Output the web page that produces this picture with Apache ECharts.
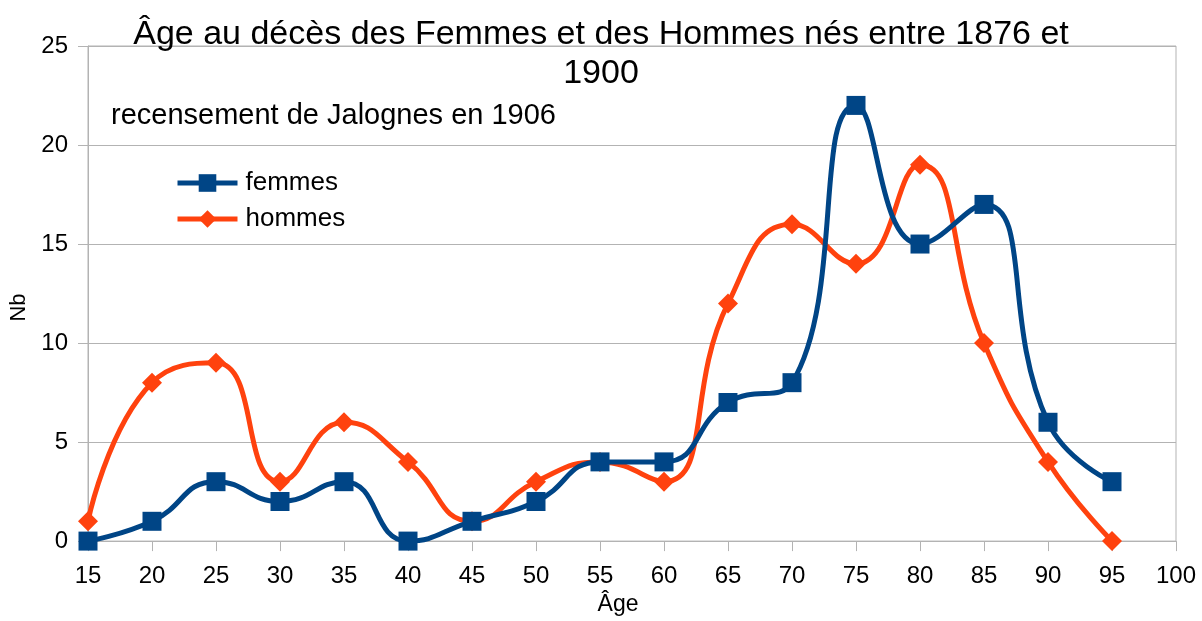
<!DOCTYPE html>
<html>
<head>
<meta charset="utf-8">
<script src="https://cdn.jsdelivr.net/npm/echarts@6/dist/echarts.min.js"></script>
<style>
html, body { margin: 0; padding: 0; background: #fff; overflow: hidden; }
#chart { width: 100vw; height: 100vh; }
</style>
</head>
<body>
<div id="chart"></div>
<script>
// âges (axe X) et nombre de décès par série
const ages = [15, 20, 25, 30, 35, 40, 45, 50, 55, 60, 65, 70, 75, 80, 85, 90, 95]
const femmes = [0, 1, 3, 2, 3, 0, 1, 2, 4, 4, 7, 8, 22, 15, 17, 6, 3]
const hommes = [1, 8, 9, 3, 6, 4, 1, 3, 4, 3, 12, 16, 14, 19, 10, 4, 0]

const titre = 'Âge au décès des Femmes et des Hommes nés entre 1876 et\n1900'
const sousTitre = 'recensement de Jalognes en 1906'

const font = '"Liberation Sans", Arial, sans-serif'
const grey = '#b3b3b3'

const chart = echarts.init(document.getElementById('chart'))

const toPairs = (vals) => ages.map((a, i) => [a, vals[i]])

const option = {
    animation: false,
    backgroundColor: '#fff',
    textStyle: { fontFamily: font },
    title: [{
        text: titre,
        left: 'center',
        top: 10,
        textStyle: { fontSize: 34, fontWeight: 'normal', color: '#000', lineHeight: 39, fontFamily: font }
    }, {
        text: sousTitre,
        left: 106,
        top: 96,
        textStyle: { fontSize: 29, fontWeight: 'normal', color: '#000', fontFamily: font }
    }],
    legend: {
        orient: 'vertical',
        left: 170,
        top: 165,
        itemWidth: 60,
        itemHeight: 22,
        itemGap: 10,
        data: ['femmes', 'hommes'],
        lineStyle: { width: 5 },
        textStyle: { fontSize: 26, color: '#000', fontFamily: font, padding: [0, 0, 0, 3] }
    },
    grid: {
        left: 87,
        right: 26,
        top: 46,
        bottom: 78,
        show: true,
        borderColor: grey,
        borderWidth: 1,
        containLabel: false
    },
    xAxis: {
        type: 'value',
        min: 15,
        max: 100,
        interval: 5,
        name: 'Âge',
        nameLocation: 'middle',
        nameGap: 50,
        nameTextStyle: { fontSize: 23, color: '#000', padding: [0, 28, 0, 0] },
        axisLine: { show: true, lineStyle: { color: grey, width: 1 } },
        axisTick: { show: true, length: 10, lineStyle: { color: grey } },
        axisLabel: { fontSize: 24, color: '#000', margin: 23 },
        splitLine: { show: false }
    },
    yAxis: {
        type: 'value',
        min: 0,
        max: 25,
        interval: 5,
        name: 'Nb',
        nameLocation: 'middle',
        nameGap: 58,
        nameTextStyle: { fontSize: 22, color: '#000', padding: [0, 28, 0, 0] },
        axisLine: { show: true, lineStyle: { color: grey, width: 1 } },
        axisTick: { show: true, length: 10, lineStyle: { color: grey } },
        axisLabel: { fontSize: 24, color: '#000', margin: 20 },
        splitLine: { show: true, lineStyle: { color: grey, width: 1 } }
    },
    series: [{
        name: 'femmes',
        type: 'line',
        z: 3,
        smooth: 0.5,
        data: toPairs(femmes),
        symbol: 'rect',
        symbolSize: 19,
        showAllSymbol: true,
        lineStyle: { color: '#004586', width: 5 },
        itemStyle: { color: '#004586' }
    }, {
        name: 'hommes',
        type: 'line',
        z: 2,
        smooth: 0.5,
        data: toPairs(hommes),
        symbol: 'diamond',
        symbolSize: [20, 20],
        showAllSymbol: true,
        lineStyle: { color: '#ff420e', width: 5 },
        itemStyle: { color: '#ff420e' }
    }]
}

chart.setOption(option)
window.addEventListener('resize', function () {
    chart.resize()
})
</script>
</body>
</html>
